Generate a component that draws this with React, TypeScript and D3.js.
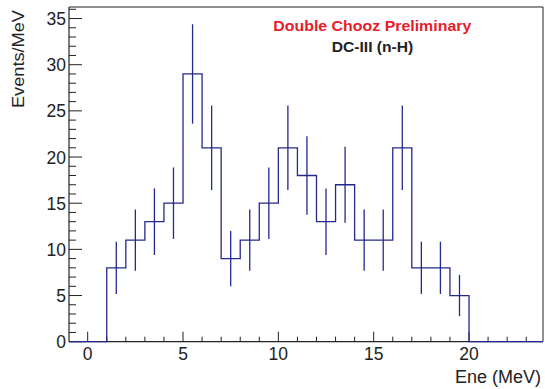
import React from "react";
import * as d3 from "d3";

const binStarts = [1, 2, 3, 4, 5, 6, 7, 8, 9, 10, 11, 12, 13, 14, 15, 16, 17, 18, 19];
const counts = [8, 11, 13, 15, 29, 21, 9, 11, 15, 21, 18, 13, 17, 11, 11, 21, 8, 8, 5];
const xTicks = [0, 5, 10, 15, 20];
const yTicks = [0, 5, 10, 15, 20, 25, 30, 35];
const xDomain: [number, number] = [-0.98, 23.88];
const yDomain: [number, number] = [0, 36.25];
const titleRed = "Double Chooz Preliminary";
const titleBlack = "DC-III (n-H)";
const xLabel = "Ene (MeV)";
const yLabel = "Events/MeV";

const W = 545;
const H = 389;
const L = 69;
const R = 543;
const T = 7;
const B = 341.7;
const FONT = "'Liberation Sans', Arial, Helvetica, sans-serif";
const HC = "#25298c";

export default function App() {
  const x = d3.scaleLinear().domain(xDomain).range([L, R]);
  const y = d3.scaleLinear().domain(yDomain).range([B, T]);

  const pts: [number, number][] = [[xDomain[0], 0]];
  binStarts.forEach((s, i) => pts.push([s, counts[i]]));
  pts.push([binStarts[binStarts.length - 1] + 1, 0]);
  pts.push([xDomain[1], 0]);
  const line = d3
    .line<[number, number]>()
    .x((d) => x(d[0]))
    .y((d) => y(d[1]))
    .curve(d3.curveStepAfter);

  const xMinor = d3.range(Math.ceil(xDomain[0]), Math.floor(xDomain[1]) + 1);
  const yMinor = d3.range(0, Math.floor(yDomain[1]) + 1);

  return (
    <svg width={W} height={H} style={{ position: "absolute", left: 0, top: 0 }}>
      <rect x={0} y={0} width={W} height={H} fill="#fff" />
      {/* frame */}
      <line x1={L} x2={R} y1={T} y2={T} stroke="#222" strokeWidth={1} />
      <line x1={R} x2={R} y1={T} y2={B} stroke="#222" strokeWidth={1} />
      <line x1={L} x2={L} y1={T} y2={B} stroke="#222" strokeWidth={1.2} />
      <line x1={L} x2={R} y1={B} y2={B} stroke="#222" strokeWidth={1.2} />
      {/* x ticks */}
      {xMinor.map((v) => {
        const major = v % 5 === 0;
        return (
          <line key={"xt" + v} x1={x(v)} x2={x(v)} y1={B} y2={B - (major ? 10 : 5)} stroke="#222" strokeWidth={1} />
        );
      })}
      {yMinor.map((v) => {
        const major = v % 5 === 0;
        return (
          <line key={"yt" + v} x1={L} x2={L + (major ? 13 : 7)} y1={y(v)} y2={y(v)} stroke="#222" strokeWidth={1} />
        );
      })}
      {xTicks.map((v) => (
        <text key={"xl" + v} x={x(v)} y={B + 18.3} textAnchor="middle" fontFamily={FONT} fontSize={17.5} fill="#222">
          {v}
        </text>
      ))}
      {yTicks.map((v) => (
        <text key={"yl" + v} x={L - 3} y={y(v) + 6.5} textAnchor="end" fontFamily={FONT} fontSize={17.5} fill="#222">
          {v}
        </text>
      ))}
      <text x={R - 2} y={383} textAnchor="end" fontFamily={FONT} fontSize={18} fill="#222">
        {xLabel}
      </text>
      <text
        transform={`translate(24, ${T + 3}) rotate(-90)`}
        textAnchor="end"
        fontFamily={FONT}
        fontSize={17}
        textLength={98}
        lengthAdjust="spacingAndGlyphs"
        fill="#222"
      >
        {yLabel}
      </text>
      {/* histogram */}
      <path d={line(pts) || ""} fill="none" stroke={HC} strokeWidth={1.3} />
      {binStarts.map((s, i) => {
        const v = counts[i];
        const e = Math.sqrt(v);
        return (
          <line
            key={"e" + i}
            x1={x(s + 0.5)}
            x2={x(s + 0.5)}
            y1={y(v - e)}
            y2={y(v + e)}
            stroke={HC}
            strokeWidth={1.3}
          />
        );
      })}
      <text
        x={273.3}
        y={30.5}
        fontFamily={FONT}
        fontSize={14.5}
        fontWeight="bold"
        textLength={198}
        lengthAdjust="spacingAndGlyphs"
        fill="#e8202a"
      >
        {titleRed}
      </text>
      <text
        x={331.7}
        y={51.5}
        fontFamily={FONT}
        fontSize={14.5}
        fontWeight="bold"
        textLength={81.6}
        lengthAdjust="spacingAndGlyphs"
        fill="#222"
      >
        {titleBlack}
      </text>
    </svg>
  );
}
